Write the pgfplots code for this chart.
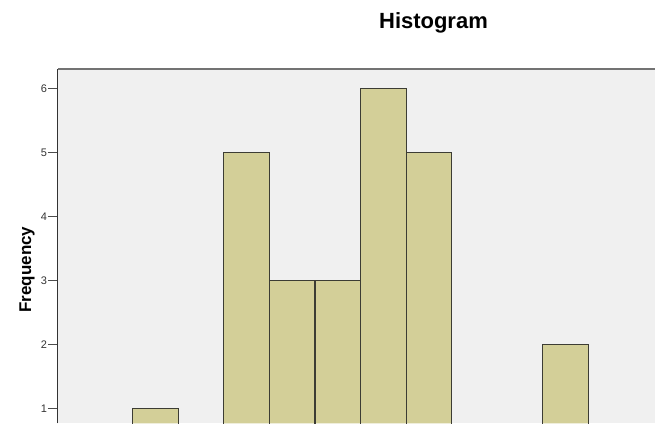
\documentclass[border=0pt]{standalone}
\usepackage{pgfplots}
\pgfplotsset{compat=1.18}
\usepackage{fontspec}
\setmainfont{Liberation Sans}
\definecolor{barfill}{HTML}{D3CF98}
\definecolor{baredge}{HTML}{3C3C34}
\definecolor{plotbg}{HTML}{F0F0F0}
\begin{document}
\begin{tikzpicture}
  % fixed page frame: the reference is cropped at the right and bottom
  \path (-58pt,0pt) rectangle (598pt,424pt);
  \begin{axis}[
      at={(0,0)},
      anchor=south west,
      scale only axis,
      width=598pt,
      height=355pt,
      xmin=-1.645, xmax=11.469,
      ymin=0.765625, ymax=6.3125,
      axis background/.style={fill=plotbg},
      axis line style={draw=none},
      xtick=\empty,
      ytick={1,2,3,4,5,6},
      ytick pos=left,
      tick align=outside,
      major tick length=10pt,
      tick style={black!70, line width=0.9pt},
      /pgf/number format/assume math mode=true,
      tick label style={font=\fontsize{11}{12}\selectfont, text=black!80, inner sep=0.8pt},
    ]
    % bar fills (frequency per bin, bin k spans [k,k+1])
    \addplot[
      ybar,
      bar width=1,
      bar shift=0,
      fill=barfill,
      draw=none
    ] coordinates {
      (0.5,1) (2.5,5) (3.5,3) (4.5,3) (5.5,6) (6.5,5) (9.5,2)
    };
    % bar outlines; the bottom edges lie below the cropped view
    \addplot[baredge, line width=1.1pt, mark=none] coordinates {
      (0,0) (0,1) (1,1) (1,0)
      (2,0) (2,5) (3,5) (3,0) (3,3) (4,3) (4,0) (4,3) (5,3) (5,0)
      (5,6) (6,6) (6,0) (6,5) (7,5) (7,0)
      (9,0) (9,2) (10,2) (10,0)
    };
  \end{axis}
  \draw[gray!90!black, line width=1.6pt] (0pt,355pt) -- (598pt,355pt);
  \draw[black!80, line width=1pt] (0pt,0pt) -- (0pt,355pt);
  \node[font=\bfseries\fontsize{22}{26}\selectfont] at (376pt,401pt) {Histogram};
  \node[font=\bfseries\fontsize{17}{20}\selectfont, rotate=90] at (-31pt,154pt) {Frequency};
\end{tikzpicture}
\end{document}
